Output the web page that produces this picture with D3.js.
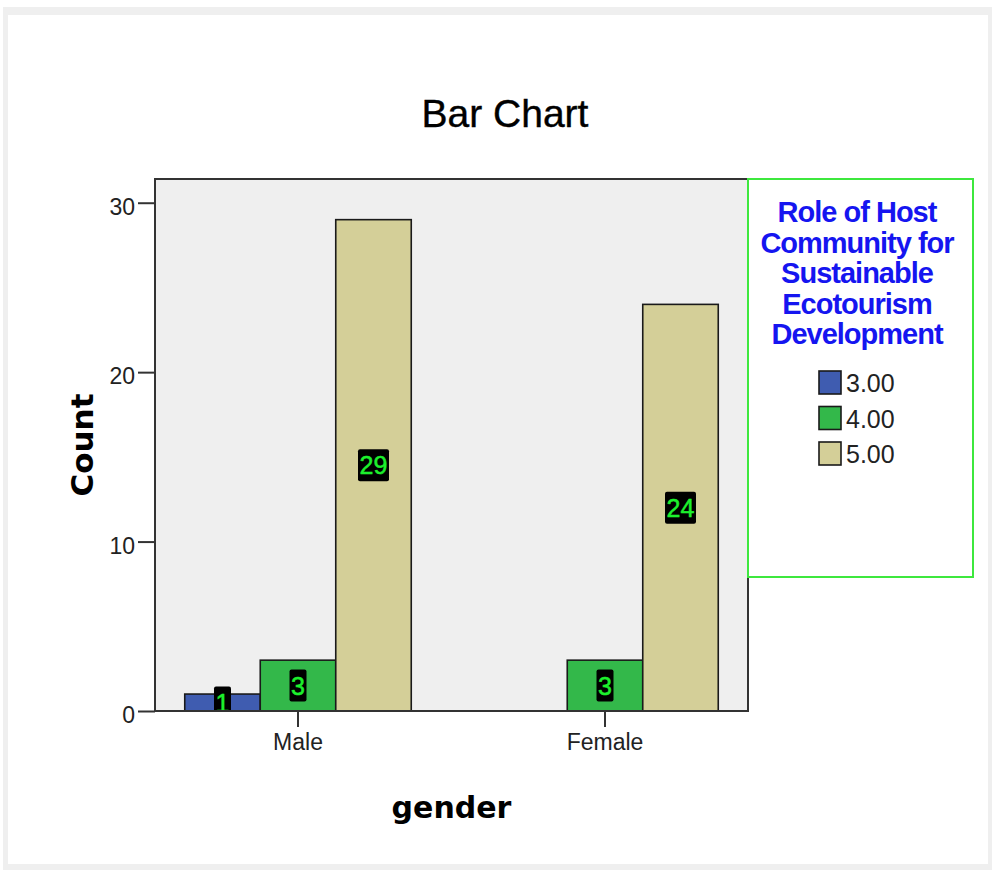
<!DOCTYPE html>
<html>
<head>
<meta charset="utf-8">
<script src="https://cdn.jsdelivr.net/npm/d3@7"></script>
<style>
  html, body { margin: 0; padding: 0; background: #ffffff; }
  svg { display: block; }
</style>
</head>
<body>
<svg id="chart" width="992" height="870"></svg>
<script>
// ---- data ----
const categories = ["Male", "Female"];
const seriesKeys = ["3.00", "4.00", "5.00"];
const maleCounts = [1, 3, 29];
const femaleCounts = [0, 3, 24];
const yTickValues = [0, 10, 20, 30];
const seriesColors = ["#3f5cb0", "#33b84a", "#d4cf98"];
const chartTitle = "Bar Chart";
const legendTitleLines = ["Role of Host", "Community for", "Sustainable", "Ecotourism", "Development"];

const table = categories.map((c, i) => ({
  category: c,
  values: seriesKeys.map((k, j) => ({ key: k, value: (i === 0 ? maleCounts : femaleCounts)[j] }))
}));

const svg = d3.select("#chart");

// outer frame
svg.append("rect").attr("x", 3).attr("y", 7).attr("width", 989).attr("height", 863).attr("fill", "#efefef");
svg.append("rect").attr("x", 8).attr("y", 15).attr("width", 980).attr("height", 849).attr("fill", "#ffffff");

const plot = { left: 155, right: 748, top: 179, bottom: 711 };

const x0 = d3.scaleBand().domain(categories).range([plot.left, plot.right])
  .paddingInner(0.2622).paddingOuter(0.0969);
const x1 = d3.scaleBand().domain(seriesKeys).range([0, x0.bandwidth()]).padding(0);
const y = d3.scaleLinear().domain([0, 31.4]).range([plot.bottom, plot.top]);
const color = d3.scaleOrdinal().domain(seriesKeys).range(seriesColors);

// title
svg.append("text").attr("x", 505).attr("y", 127).attr("text-anchor", "middle")
  .attr("font-family", "Liberation Sans, Arial, sans-serif").attr("font-size", 39)
  .attr("fill", "#000").attr("stroke", "#000").attr("stroke-width", 0.4).text(chartTitle);

// plot background
svg.append("rect").attr("x", plot.left).attr("y", plot.top)
  .attr("width", plot.right - plot.left).attr("height", plot.bottom - plot.top)
  .attr("fill", "#efefef");

// clip
svg.append("clipPath").attr("id", "plotclip").append("rect")
  .attr("x", plot.left).attr("y", plot.top)
  .attr("width", plot.right - plot.left).attr("height", plot.bottom - plot.top);

const barsG = svg.append("g").attr("clip-path", "url(#plotclip)");
const groups = barsG.selectAll("g.grp").data(table).join("g")
  .attr("transform", d => `translate(${x0(d.category)},0)`);

groups.selectAll("rect.bar").data(d => d.values.filter(v => v.value > 0)).join("rect")
  .attr("class", "bar")
  .attr("x", d => x1(d.key))
  .attr("y", d => y(d.value))
  .attr("width", x1.bandwidth())
  .attr("height", d => y(0) - y(d.value))
  .attr("fill", d => color(d.key))
  .attr("stroke", "#1a1a1a").attr("stroke-width", 1.6);

// value labels
const labelG = groups.selectAll("g.lbl").data(d => d.values.filter(v => v.value > 0)).join("g")
  .attr("class", "lbl")
  .attr("transform", d => `translate(${x1(d.key) + x1.bandwidth() / 2},${(y(d.value) + y(0)) / 2})`);
labelG.each(function(d) {
  const g = d3.select(this);
  g.append("text").attr("text-anchor", "middle").attr("dy", "0.36em")
    .attr("font-family", "Liberation Sans, Arial, sans-serif").attr("font-size", 25)
    .attr("fill", "#1df02d").attr("stroke", "#1df02d").attr("stroke-width", 0.5).text(d.value);
  const w = String(d.value).length * 14 + 3;
  g.insert("rect", "text").attr("x", -w / 2).attr("y", -16).attr("width", w).attr("height", 32)
    .attr("rx", 2).attr("fill", "#000");
});

// plot border
svg.append("rect").attr("x", plot.left).attr("y", plot.top)
  .attr("width", plot.right - plot.left).attr("height", plot.bottom - plot.top)
  .attr("fill", "none").attr("stroke", "#333").attr("stroke-width", 2);

// y axis
const yAxis = svg.append("g").attr("transform", `translate(${plot.left},0)`)
  .call(d3.axisLeft(y).tickValues(yTickValues).tickSize(17).tickPadding(3).tickFormat(d3.format("d")));
yAxis.select(".domain").remove();
yAxis.selectAll(".tick line").attr("stroke", "#333").attr("stroke-width", 2);
yAxis.selectAll(".tick text").attr("font-family", "Liberation Sans, Arial, sans-serif")
  .attr("font-size", 23).attr("fill", "#222").attr("dy", "0.5em");

// x axis
const xAxis = svg.append("g").attr("transform", `translate(0,${plot.bottom})`)
  .call(d3.axisBottom(x0).tickSize(16).tickPadding(7));
xAxis.select(".domain").remove();
xAxis.selectAll(".tick line").attr("stroke", "#333").attr("stroke-width", 2);
xAxis.selectAll(".tick text").attr("font-family", "Liberation Sans, Arial, sans-serif")
  .attr("font-size", 23).attr("fill", "#222");

// axis titles
svg.append("text").attr("transform", `translate(93,${(plot.top + plot.bottom) / 2}) rotate(-90)`)
  .attr("text-anchor", "middle")
  .attr("font-family", "DejaVu Sans, Verdana, sans-serif").attr("font-weight", "bold")
  .attr("font-size", 31).attr("fill", "#000").text("Count");
svg.append("text").attr("x", (plot.left + plot.right) / 2).attr("y", 818)
  .attr("text-anchor", "middle")
  .attr("font-family", "DejaVu Sans, Verdana, sans-serif").attr("font-weight", "bold")
  .attr("font-size", 30).attr("fill", "#000").text("gender");

// legend
const leg = { x: 748, y: 179, w: 225, h: 398 };
svg.append("rect").attr("x", leg.x).attr("y", leg.y).attr("width", leg.w).attr("height", leg.h)
  .attr("fill", "#fff").attr("stroke", "#3ee83e").attr("stroke-width", 2);
svg.append("g").selectAll("text").data(legendTitleLines).join("text")
  .attr("x", 857).attr("y", (d, i) => 222 + i * 30.5)
  .attr("text-anchor", "middle")
  .attr("font-family", "Liberation Sans, Arial, sans-serif").attr("font-weight", "bold")
  .attr("font-size", 29).attr("letter-spacing", "-1px")
  .attr("fill", "#1515f0").text(d => d);

const items = svg.append("g").selectAll("g").data(seriesKeys).join("g")
  .attr("transform", (d, i) => `translate(819,${371 + i * 35.5})`);
items.append("rect").attr("width", 22).attr("height", 23)
  .attr("fill", d => color(d)).attr("stroke", "#1a1a1a").attr("stroke-width", 1.6);
items.append("text").attr("x", 27).attr("y", 21)
  .attr("font-family", "Liberation Sans, Arial, sans-serif").attr("font-size", 25)
  .attr("fill", "#222").text(d => d);
</script>
</body>
</html>
